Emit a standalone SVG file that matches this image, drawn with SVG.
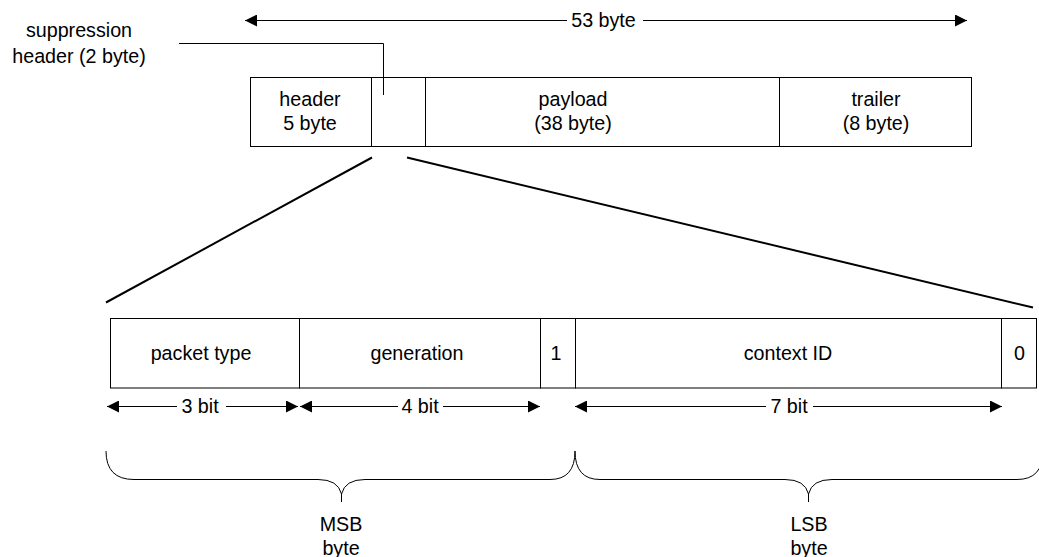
<svg xmlns="http://www.w3.org/2000/svg" width="1039" height="557" viewBox="0 0 1039 557">
<defs>
<style>
text{font-family:"Liberation Sans",Arial,sans-serif;font-size:19.7px;fill:#000;text-anchor:middle}
.box{fill:#fff;stroke:#000;stroke-width:1}
.ln{fill:none;stroke:#000;stroke-width:1}
.fan{fill:none;stroke:#000;stroke-width:2}
.arr{fill:none;stroke:#000;stroke-width:1;marker-end:url(#ah)}
</style>
<marker id="ah" viewBox="0 0 12 12" refX="12" refY="6" markerWidth="12" markerHeight="12" markerUnits="userSpaceOnUse" orient="auto">
<path d="M0,0 L12,6 L0,12 Z" fill="#000"/>
</marker>
</defs>
<g id="cell-header"><rect class="box" x="250.5" y="77.5" width="121" height="69"/><text x="310" y="106">header</text><text x="310" y="130">5 byte</text></g>
<g id="cell-suppression"><rect class="box" x="371.5" y="77.5" width="54" height="69"/></g>
<g id="cell-payload"><rect class="box" x="425.5" y="77.5" width="354" height="69"/><text x="573" y="106">payload</text><text x="573" y="130">(38 byte)</text></g>
<g id="cell-trailer"><rect class="box" x="779.5" y="77.5" width="192" height="69"/><text x="876" y="106">trailer</text><text x="876" y="130">(8 byte)</text></g>
<g id="label-suppression"><text x="79" y="37">suppression</text><text x="79" y="63">header (2 byte)</text></g>
<g id="label-53"><text x="603.5" y="27">53 byte</text></g>
<g id="cell-packet-type"><rect class="box" x="110.5" y="318.5" width="189" height="69.5"/><text x="201" y="360">packet type</text></g>
<g id="cell-generation"><rect class="box" x="299.5" y="318.5" width="241" height="69.5"/><text x="417" y="360">generation</text></g>
<g id="cell-1"><rect class="box" x="540.5" y="318.5" width="35" height="69.5"/><text x="556" y="360">1</text></g>
<g id="cell-context"><rect class="box" x="575.5" y="318.5" width="426" height="69.5"/><text x="788" y="360">context ID</text></g>
<g id="cell-0"><rect class="box" x="1001.5" y="318.5" width="35" height="69.5"/><text x="1019.5" y="360">0</text></g>
<g id="label-bits"><text x="200" y="413">3 bit</text><text x="420" y="413">4 bit</text><text x="789" y="413">7 bit</text></g>
<g id="label-msb"><text x="341" y="531">MSB</text><text x="341" y="555">byte</text></g>
<g id="label-lsb"><text x="809" y="531">LSB</text><text x="809" y="555">byte</text></g>
<g id="connectors">
<path class="arr" d="M567,20.5 L245,20.5"/>
<path class="arr" d="M643,20.5 L967,20.5"/>
<path class="ln" d="M179,43.5 L383.5,43.5 L383.5,95"/>
<path class="fan" d="M372,157.5 L106,302.5"/>
<path class="fan" d="M407,157.5 L1033,307.5"/>
<path class="arr" d="M177,406.5 L107,406.5"/>
<path class="arr" d="M226,406.5 L298,406.5"/>
<path class="arr" d="M398,406.5 L300,406.5"/>
<path class="arr" d="M443,406.5 L540,406.5"/>
<path class="arr" d="M766,406.5 L575,406.5"/>
<path class="arr" d="M813,406.5 L1002,406.5"/>
<path class="ln" d="M106,451 Q106,479.5 134,479.5 L318,479.5 Q338,479.5 341.5,494 L341.5,502 M341.5,494 Q345,479.5 365,479.5 L550,479.5 Q575,479.5 575,451"/>
<path class="ln" d="M575,451 Q575,479.5 600,479.5 L785,479.5 Q805,479.5 808.5,494 L808.5,502 M808.5,494 Q812,479.5 832,479.5 L1017,479.5 Q1043,479.5 1043,451"/>
</g>
</svg>
